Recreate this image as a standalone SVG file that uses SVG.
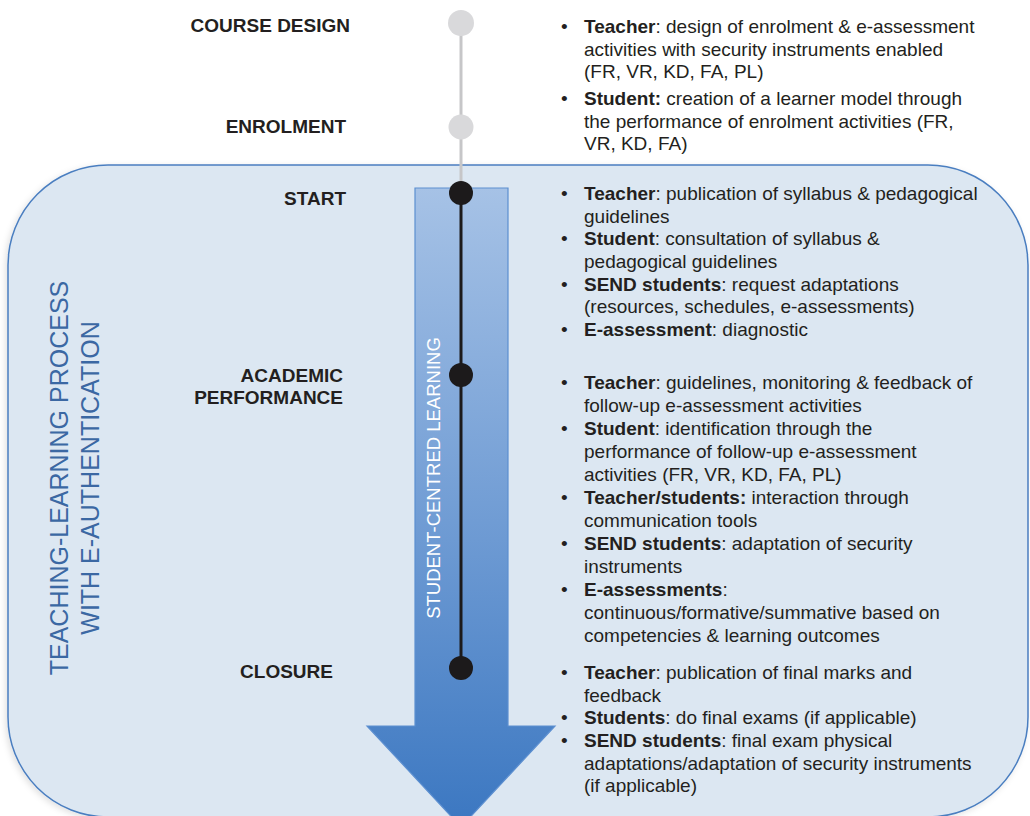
<svg xmlns="http://www.w3.org/2000/svg" width="1030" height="816" viewBox="0 0 1030 816">
<style>
.stage{font-family:"Liberation Sans",Arial,sans-serif;font-weight:bold;font-size:19px;fill:#231f20;text-anchor:end}
.body{font-family:"Liberation Sans",Arial,sans-serif;font-size:19px;fill:#231f20}
.body tspan.b{font-weight:bold}
.vert{font-family:"Liberation Sans",Arial,sans-serif;font-size:25px;fill:#3b68a3;text-anchor:middle}
.arrowtxt{font-family:"Liberation Sans",Arial,sans-serif;font-size:18.5px;fill:#ffffff;text-anchor:middle}
.gdot{fill:#d9d9db}
.bdot{fill:#1c1a1b}
</style>
<defs>
<linearGradient id="arrowGrad" x1="0" y1="188" x2="0" y2="827" gradientUnits="userSpaceOnUse">
<stop offset="0" stop-color="#a6c2e6"/>
<stop offset="0.55" stop-color="#6d9ad3"/>
<stop offset="1" stop-color="#3b77c1"/>
</linearGradient>
<filter id="shadow" x="-5%" y="-5%" width="110%" height="110%">
<feDropShadow dx="-2" dy="2" stdDeviation="3" flood-color="#000" flood-opacity="0.12"/>
</filter>
</defs>
<rect width="1030" height="816" fill="#ffffff"/>

<g id="process-box">
<rect x="8" y="165" width="1020" height="652" rx="100" ry="100" fill="#dce7f2" stroke="#4a7ec0" stroke-width="1.5" filter="url(#shadow)"/>
<text class="vert" transform="rotate(-90 68 478)" x="68" y="478">TEACHING-LEARNING PROCESS</text>
<text class="vert" transform="rotate(-90 99 478)" x="99" y="478">WITH E-AUTHENTICATION</text>
</g>

<g id="arrow">
<polygon points="415,188 508,188 508,726 555,726 461,827 367,726 415,726" fill="url(#arrowGrad)" stroke="#5c8fd0" stroke-width="1.2"/>
<text class="arrowtxt" transform="rotate(-90 440 478)" x="440" y="478">STUDENT-CENTRED LEARNING</text>
</g>

<g id="connectors">
<line x1="461" y1="23" x2="461" y2="193" stroke="#c6c6c8" stroke-width="3"/>
<line x1="461" y1="193" x2="461" y2="668" stroke="#1c1a1b" stroke-width="3"/>
</g>

<g id="course-design">
<circle class="gdot" cx="461" cy="23" r="13"/>
<text class="stage" x="350" y="32">COURSE DESIGN</text>
</g>
<g id="enrolment">
<circle class="gdot" cx="461" cy="127" r="12.5"/>
<text class="stage" x="346" y="133">ENROLMENT</text>
<text class="body" x="561" y="33">•</text>
<text class="body" x="584" y="33"><tspan class="b">Teacher</tspan>: design of enrolment &amp; e-assessment</text>
<text class="body" x="584" y="56">activities with security instruments enabled</text>
<text class="body" x="584" y="78">(FR, VR, KD, FA, PL)</text>
<text class="body" x="561" y="105">•</text>
<text class="body" x="584" y="105"><tspan class="b">Student:</tspan> creation of a learner model through</text>
<text class="body" x="584" y="128">the performance of enrolment activities (FR,</text>
<text class="body" x="584" y="150">VR, KD, FA)</text>
</g>

<g id="start">
<circle class="bdot" cx="461" cy="193" r="12"/>
<text class="stage" x="346" y="205">START</text>
<text class="body" x="561" y="200">•</text>
<text class="body" x="584" y="200"><tspan class="b">Teacher</tspan>: publication of syllabus &amp; pedagogical</text>
<text class="body" x="584" y="222.7">guidelines</text>
<text class="body" x="561" y="245.3">•</text>
<text class="body" x="584" y="245.3"><tspan class="b">Student</tspan>: consultation of syllabus &amp;</text>
<text class="body" x="584" y="268">pedagogical guidelines</text>
<text class="body" x="561" y="290.7">•</text>
<text class="body" x="584" y="290.7"><tspan class="b">SEND students</tspan>: request adaptations</text>
<text class="body" x="584" y="313.3">(resources, schedules, e-assessments)</text>
<text class="body" x="561" y="336">•</text>
<text class="body" x="584" y="336"><tspan class="b">E-assessment</tspan>: diagnostic</text>
</g>

<g id="academic-performance">
<circle class="bdot" cx="461" cy="375" r="12"/>
<text class="stage" x="343" y="382">ACADEMIC</text>
<text class="stage" x="343" y="404">PERFORMANCE</text>
<text class="body" x="561" y="389.3">•</text>
<text class="body" x="584" y="389.3"><tspan class="b">Teacher</tspan>: guidelines, monitoring &amp; feedback of</text>
<text class="body" x="584" y="412">follow-up e-assessment activities</text>
<text class="body" x="561" y="435">•</text>
<text class="body" x="584" y="435"><tspan class="b">Student</tspan>: identification through the</text>
<text class="body" x="584" y="458">performance of follow-up e-assessment</text>
<text class="body" x="584" y="480.5">activities (FR, VR, KD, FA, PL)</text>
<text class="body" x="561" y="503.5">•</text>
<text class="body" x="584" y="503.5"><tspan class="b">Teacher/students:</tspan> interaction through</text>
<text class="body" x="584" y="526.5">communication tools</text>
<text class="body" x="561" y="549.5">•</text>
<text class="body" x="584" y="549.5"><tspan class="b">SEND students</tspan>: adaptation of security</text>
<text class="body" x="584" y="572.5">instruments</text>
<text class="body" x="561" y="595.5">•</text>
<text class="body" x="584" y="595.5"><tspan class="b">E-assessments</tspan>:</text>
<text class="body" x="584" y="618.5">continuous/formative/summative based on</text>
<text class="body" x="584" y="641.5">competencies &amp; learning outcomes</text>
</g>

<g id="closure">
<circle class="bdot" cx="461" cy="668" r="12"/>
<text class="stage" x="333" y="678">CLOSURE</text>
<text class="body" x="561" y="679">•</text>
<text class="body" x="584" y="679"><tspan class="b">Teacher</tspan>: publication of final marks and</text>
<text class="body" x="584" y="701.7">feedback</text>
<text class="body" x="561" y="724.3">•</text>
<text class="body" x="584" y="724.3"><tspan class="b">Students</tspan>: do final exams (if applicable)</text>
<text class="body" x="561" y="747">•</text>
<text class="body" x="584" y="747"><tspan class="b">SEND students</tspan>: final exam physical</text>
<text class="body" x="584" y="769.7">adaptations/adaptation of security instruments</text>
<text class="body" x="584" y="792.3">(if applicable)</text>
</g>
</svg>
